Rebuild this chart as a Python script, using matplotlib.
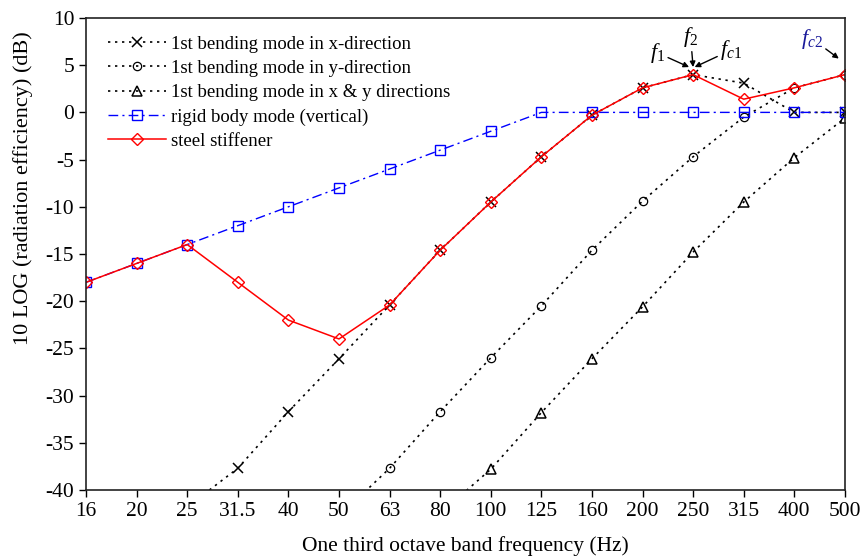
import matplotlib
matplotlib.use("Agg")
import matplotlib.pyplot as plt
import numpy as np

plt.rcParams["font.family"] = ["Liberation Serif", "DejaVu Serif"]
plt.rcParams["mathtext.fontset"] = "custom"
plt.rcParams["mathtext.rm"] = "Liberation Serif"
plt.rcParams["mathtext.it"] = "Liberation Serif:italic"
plt.rcParams["axes.unicode_minus"] = False

# one third octave band centre frequencies (Hz)
bands = ["16", "20", "25", "31.5", "40", "50", "63", "80", "100", "125",
         "160", "200", "250", "315", "400", "500"]

# 10 log radiation efficiency (dB); values below -40 run off the axis
bend_x = [np.nan, np.nan, -41.8, -37.7, -31.7, -26.1, -20.4, -14.6, -9.5, -4.7,
          -0.3, 2.6, 4.0, 3.1, 0.0, 0.0]
bend_y = [np.nan, np.nan, np.nan, np.nan, np.nan, -42.8, -37.7, -31.7, -26.0, -20.5,
          -14.6, -9.4, -4.7, -0.5, 2.6, 4.0]
bend_xy = [np.nan, np.nan, np.nan, np.nan, np.nan, np.nan, np.nan, -42.5, -37.8, -31.8,
           -26.1, -20.6, -14.8, -9.5, -4.8, -0.6]
rigid = [-18, -16, -14, -12, -10, -8, -6, -4, -2, 0,
         0, 0, 0, 0, 0, 0]
steel = [-18, -16, -14, -18, -22, -24, -20.4, -14.6, -9.5, -4.7,
         -0.3, 2.6, 4.0, 1.4, 2.6, 4.0]

x = np.arange(len(bands))
dotted = (0, (1.4, 2.8))

fig = plt.figure(figsize=(8.63, 5.57), dpi=100)
ax = fig.add_axes([0.0997, 0.1203, 0.8793, 0.8474])

ax.plot(x, bend_x, color="black", lw=1.2, ls=dotted, marker="x", ms=7, mew=1.1,
        label="1st bending mode in x-direction")
ax.plot(x, bend_y, color="black", lw=1.2, ls=dotted, marker="o", ms=6, mew=0.9,
        fillstyle="none", label="1st bending mode in y-direction")
ax.plot(x, bend_xy, color="black", lw=1.2, ls=dotted, marker="^", ms=7, mew=1.1,
        fillstyle="none", label="1st bending mode in x & y directions")
ax.plot(x, rigid, color="#0000ff", lw=1.0, ls=(0, (7, 3, 1.5, 3)), marker="s", ms=6.5,
        mew=1.0, fillstyle="none", label="rigid body mode (vertical)")
ax.plot(x, steel, color="#ff0000", lw=1.1, ls="-", marker="D", ms=6, mew=1.0,
        fillstyle="none", label="steel stiffener")

ax.set_xlim(0, len(bands) - 1)
ax.set_ylim(-40, 10)
ax.set_xticks(x, bands)
ax.set_yticks(np.arange(-40, 11, 5))
ax.tick_params(direction="out", length=5, width=1.0, labelsize=15.5, colors="black")
for side in ax.spines.values():
    side.set_linewidth(1.2)
    side.set_color("#222222")

ax.set_xlabel("One third octave band frequency (Hz)", fontsize=15.5, labelpad=11)
ax.set_ylabel("10 LOG (radiation efficiency) (dB)", fontsize=16)
ax.yaxis.set_label_coords(-0.07, 0.64)

leg = ax.legend(loc="upper left", frameon=False, fontsize=13.5, handlelength=3.1,
                handletextpad=0.3, labelspacing=0.38, borderaxespad=0.75,
                bbox_to_anchor=(0.0, 1.0085))

# natural frequency markers around the 250 Hz peak
arrow = dict(arrowstyle="-|>", color="black", lw=1.0, mutation_scale=8,
             shrinkA=0, shrinkB=0)
ax.annotate("$f_1$", xy=(11.92, 4.8), xytext=(11.3, 6.3), fontsize=16,
            ha="center", va="center", arrowprops=arrow, annotation_clip=False)
ax.annotate("$f_2$", xy=(12.0, 4.8), xytext=(11.95, 8.0), fontsize=16,
            ha="center", va="center", arrowprops=arrow, annotation_clip=False)
ax.annotate("$f_{c1}$", xy=(12.03, 4.8), xytext=(12.75, 6.6), fontsize=16,
            ha="center", va="center", arrowprops=arrow, annotation_clip=False)
ax.annotate("$f_{c2}$", xy=(14.88, 5.7), xytext=(14.35, 7.8), fontsize=16,
            color="#1a1a9a", ha="center", va="center", arrowprops=arrow,
            annotation_clip=False)

fig.savefig("out.png", dpi=100)
